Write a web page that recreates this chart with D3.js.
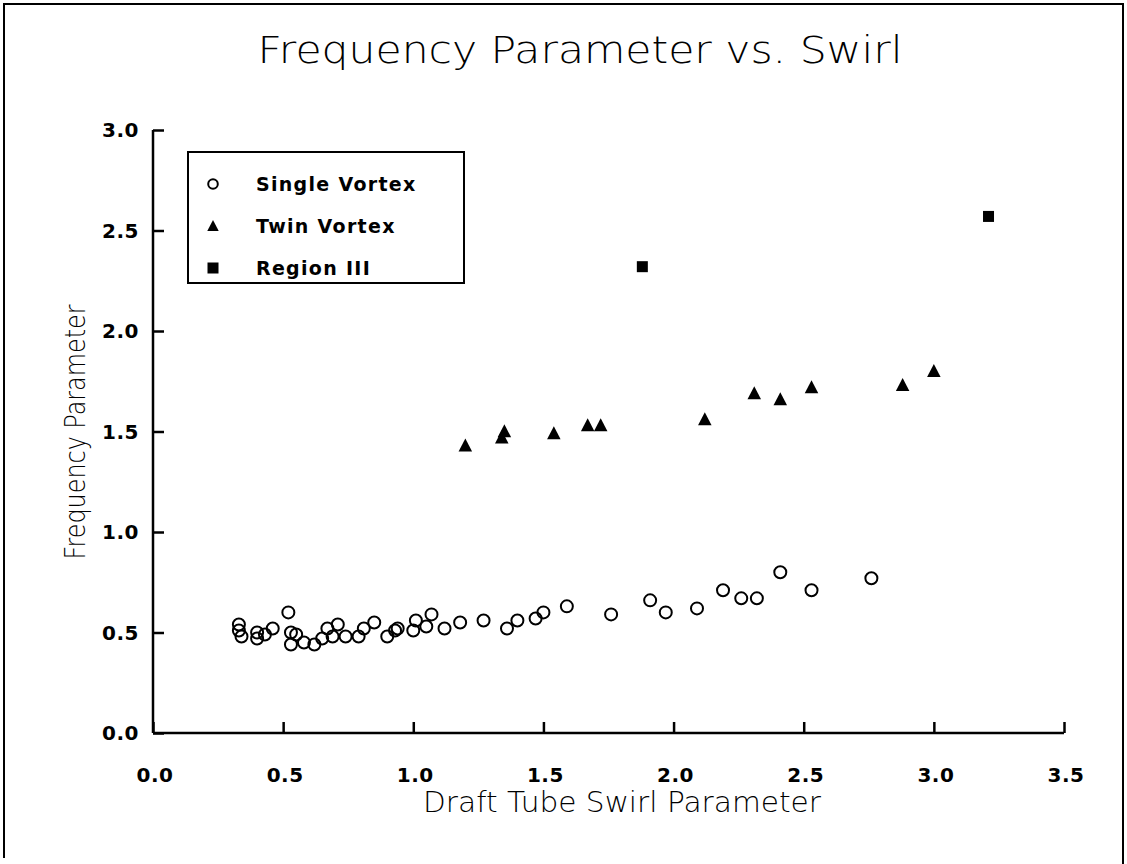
<!DOCTYPE html>
<html>
<head>
<meta charset="utf-8">
<script src="https://cdn.jsdelivr.net/npm/d3@7"></script>
<style>
  body { margin: 0; background: #fff; }
  #container { width: 1127px; height: 864px; }
</style>
</head>
<body>
<div id="container"></div>
<script>
// values
const singleX = [0.33, 0.33, 0.34, 0.40, 0.40, 0.43, 0.46, 0.52, 0.53, 0.53, 0.55, 0.58, 0.62, 0.65, 0.67, 0.69,
                 0.71, 0.74, 0.79, 0.81, 0.85, 0.90, 0.93, 0.94, 1.00, 1.01, 1.05, 1.07, 1.12, 1.18, 1.27,
                 1.36, 1.40, 1.47, 1.50, 1.59, 1.76, 1.91, 1.97, 2.09, 2.19, 2.26, 2.32, 2.41, 2.53, 2.76];
const singleY = [0.54, 0.51, 0.48, 0.50, 0.47, 0.49, 0.52, 0.60, 0.50, 0.44, 0.49, 0.45, 0.44, 0.47, 0.52, 0.48,
                 0.54, 0.48, 0.48, 0.52, 0.55, 0.48, 0.51, 0.52, 0.51, 0.56, 0.53, 0.59, 0.52, 0.55, 0.56,
                 0.52, 0.56, 0.57, 0.60, 0.63, 0.59, 0.66, 0.60, 0.62, 0.71, 0.67, 0.67, 0.80, 0.71, 0.77];
const twinX = [1.20, 1.34, 1.35, 1.54, 1.67, 1.72, 2.12, 2.31, 2.41, 2.53, 2.88, 3.00];
const twinY = [1.43, 1.47, 1.50, 1.49, 1.53, 1.53, 1.56, 1.69, 1.66, 1.72, 1.73, 1.80];
const regionX = [1.88, 3.21];
const regionY = [2.32, 2.57];
const xTicks = [0.0, 0.5, 1.0, 1.5, 2.0, 2.5, 3.0, 3.5];
const yTicks = [0.0, 0.5, 1.0, 1.5, 2.0, 2.5, 3.0];
const legendNames = ["Single Vortex", "Twin Vortex", "Region III"];

var svg;
const canvas_w = 1127, canvas_h = 864;
const plot = { left: 153, right: 1064, top: 130, bottom: 733 };
const thinFont = "'DejaVu Sans', sans-serif";
const boldFont = "'DejaVu Sans', sans-serif";

function initVisualization(){
    container.innerHTML = "";
    svg = d3.select(container)
            .append('svg')
            .attr("width", canvas_w)
            .attr("height", canvas_h);
    svg.append('rect').attr('width', canvas_w).attr('height', canvas_h).attr('fill', '#fff');
    // page frame
    svg.append('path')
        .attr('d', 'M4,858 V4 H1123 V864')
        .attr('fill', 'none').attr('stroke', '#000').attr('stroke-width', 2);
}

function symbol(g, kind, cx, cy, s){
    if (kind == 0){
        g.append('circle').attr('cx', cx).attr('cy', cy).attr('r', s * 0.48)
            .attr('fill', 'none').attr('stroke', '#000').attr('stroke-width', 2);
    } else if (kind == 1){
        g.append('path')
            .attr('d', `M${cx},${cy - s * 0.55} L${cx + s * 0.52},${cy + s * 0.45} L${cx - s * 0.52},${cy + s * 0.45} Z`)
            .attr('fill', '#000');
    } else {
        g.append('rect').attr('x', cx - s / 2).attr('y', cy - s / 2)
            .attr('width', s).attr('height', s).attr('fill', '#000');
    }
}

function showChart(){
    initVisualization();

    let x = d3.scaleLinear().domain([0, 3.5]).range([plot.left, plot.right]);
    let y = d3.scaleLinear().domain([0, 3.0]).range([plot.bottom, plot.top]);

    // axes: ticks point into the plot
    let xAxis = svg.append('g')
        .attr('transform', `translate(0,${plot.bottom})`)
        .call(d3.axisTop(x).tickValues(xTicks).tickSize(11).tickFormat(''));
    let yAxis = svg.append('g')
        .attr('transform', `translate(${plot.left},0)`)
        .call(d3.axisRight(y).tickValues(yTicks).tickSize(11).tickFormat(''));
    [xAxis, yAxis].forEach(a => {
        a.select('.domain').attr('stroke', '#000').attr('stroke-width', 2.5);
        a.selectAll('.tick line').attr('stroke', '#000').attr('stroke-width', 2.5);
    });
    xAxis.select('.domain').attr('d', `M${plot.left},0H${plot.right}`);
    yAxis.select('.domain').attr('d', `M0,${plot.bottom}V${plot.top}`);

    svg.selectAll('.xlab')
        .data(xTicks).enter().append('text')
        .attr('x', d => x(d) + 2)
        .attr('y', 782)
        .attr('text-anchor', 'middle')
        .attr('font-family', boldFont).attr('font-size', 20).attr('font-weight', 'bold')
        .attr('letter-spacing', 0.5)
        .text(d => d.toFixed(1));

    svg.selectAll('.ylab')
        .data(yTicks).enter().append('text')
        .attr('x', 139)
        .attr('y', d => y(d) + 7)
        .attr('text-anchor', 'end')
        .attr('font-family', boldFont).attr('font-size', 20).attr('font-weight', 'bold')
        .attr('letter-spacing', 0.5)
        .text(d => d.toFixed(1));

    // points
    let pts = svg.append('g');
    singleX.forEach((v, i) => symbol(pts, 0, x(v), y(singleY[i]), 12.5));
    twinX.forEach((v, i) => symbol(pts, 1, x(v), y(twinY[i]), 13));
    regionX.forEach((v, i) => symbol(pts, 2, x(v), y(regionY[i]), 11));

    // titles
    svg.append('text')
        .attr('x', 580).attr('y', 63)
        .attr('text-anchor', 'middle')
        .attr('font-family', thinFont).attr('font-size', 37).attr('font-weight', 200)
        .attr('textLength', 645).attr('lengthAdjust', 'spacingAndGlyphs')
        .text('Frequency Parameter vs. Swirl');

    svg.append('text')
        .attr('x', 622).attr('y', 812)
        .attr('text-anchor', 'middle')
        .attr('font-family', thinFont).attr('font-size', 28).attr('font-weight', 200)
        .attr('textLength', 398).attr('lengthAdjust', 'spacingAndGlyphs')
        .text('Draft Tube Swirl Parameter');

    svg.append('text')
        .attr('transform', 'translate(85,432) rotate(-90)')
        .attr('text-anchor', 'middle')
        .attr('font-family', thinFont).attr('font-size', 28).attr('font-weight', 200)
        .attr('textLength', 255).attr('lengthAdjust', 'spacingAndGlyphs')
        .text('Frequency Parameter');

    // legend
    let lg = svg.append('g');
    lg.append('rect')
        .attr('x', 188).attr('y', 152).attr('width', 276).attr('height', 131)
        .attr('fill', '#fff').attr('stroke', '#000').attr('stroke-width', 2);
    legendNames.forEach((name, i) => {
        let cy = 184 + i * 42;
        symbol(lg, i, 213, cy, i == 0 ? 10 : 11);
        lg.append('text')
            .attr('x', 256).attr('y', cy + 7)
            .attr('font-family', boldFont).attr('font-size', 19).attr('font-weight', 'bold')
            .attr('letter-spacing', 1.3)
            .text(name);
    });
}

showChart();
</script>
</body>
</html>
